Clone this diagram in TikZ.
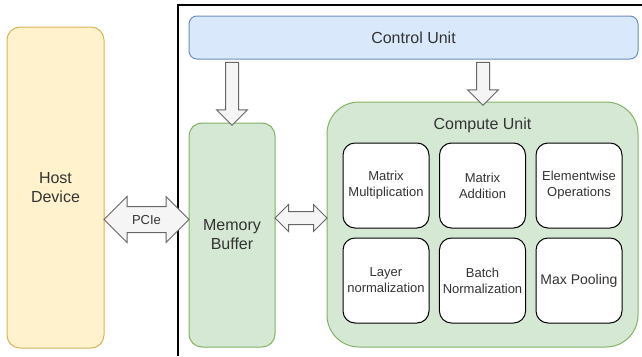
\documentclass[tikz,border=0pt]{standalone}
\usepackage{fontspec}
\setmainfont{Liberation Sans}
\usetikzlibrary{shapes.arrows}

\definecolor{hostfill}{HTML}{FFF2CC}
\definecolor{hostline}{HTML}{D6B656}
\definecolor{ctrlfill}{HTML}{DAE8FC}
\definecolor{ctrlline}{HTML}{6C8EBF}
\definecolor{unitfill}{HTML}{D5E8D4}
\definecolor{unitline}{HTML}{82B366}
\definecolor{arrfill}{HTML}{F5F5F5}
\definecolor{arrline}{HTML}{666666}
\definecolor{txtgray}{HTML}{333333}

\tikzset{
  block/.style={draw,line width=1pt,rounded corners=13pt,align=center,text=txtgray,
    font=\fontsize{16}{19}\selectfont},
  op/.style={draw=black,fill=white,line width=1pt,rounded corners=12pt,align=center,
    minimum width=86pt,minimum height=85pt,text=txtgray,font=\fontsize{13}{16}\selectfont},
  downarrow/.style={single arrow,draw=arrline,fill=arrfill,line width=1pt,inner xsep=0pt,
    inner ysep=6pt,rotate=-90,single arrow head extend=9pt},
  biarrow/.style={double arrow,draw=arrline,fill=arrfill,line width=1pt,inner xsep=0pt,
    text=txtgray,font=\fontsize{13}{16}\selectfont}
}

\begin{document}
\begin{tikzpicture}[x=1pt,y=-1pt]
\useasboundingbox (0,0) rectangle (642,356);
% accelerator frame
\draw[line width=1.2pt] (178,356) -- (178,5) -- (642,5);
\node[block,fill=hostfill,draw=hostline,minimum width=97pt,minimum height=321pt] (host) at (55.5,187.5) {Host\\Device};
\node[block,fill=ctrlfill,draw=ctrlline,rounded corners=8pt,minimum width=449pt,minimum height=43pt] (ctrl) at (413.5,37.5) {Control Unit};
\node[block,fill=unitfill,draw=unitline,minimum width=86pt,minimum height=224pt] (mem) at (232,235) {Memory\\Buffer};
\node[block,fill=unitfill,draw=unitline,rounded corners=32pt,minimum width=311pt,minimum height=245pt,
  label={[anchor=north,yshift=-13pt,text=txtgray,font=\fontsize{16}{19}\selectfont]north:Compute Unit}] (comp) at (482.5,224.5) {};
% operations
\node[op] (mmul) at (386,185.5) {Matrix\\Multiplication};
\node[op] (madd) at (482.5,185.5) {Matrix\\Addition};
\node[op] (elem) at (579,185.5) {Elementwise\\Operations};
\node[op] (lnorm) at (386,280.5) {Layer\\normalization};
\node[op] (bnorm) at (482.5,280.5) {Batch\\Normalization};
\node[op,font=\fontsize{14}{17}\selectfont] (maxp) at (579,280.5) {Max Pooling};
% links
\node[downarrow,minimum height=63pt] (ctrl_mem) at (232,90.5) {};
\node[downarrow,minimum height=43pt] (ctrl_comp) at (483,80.5) {};
\node[biarrow,minimum height=85pt,text height=9.5pt,text depth=0pt,inner ysep=7.75pt,
  double arrow head extend=10pt] (pcie) at (146.5,219.5) {PCIe};
\node[biarrow,minimum height=52pt,inner ysep=6pt,double arrow head extend=7pt] (mem_comp) at (301,218) {};
\end{tikzpicture}
\end{document}
